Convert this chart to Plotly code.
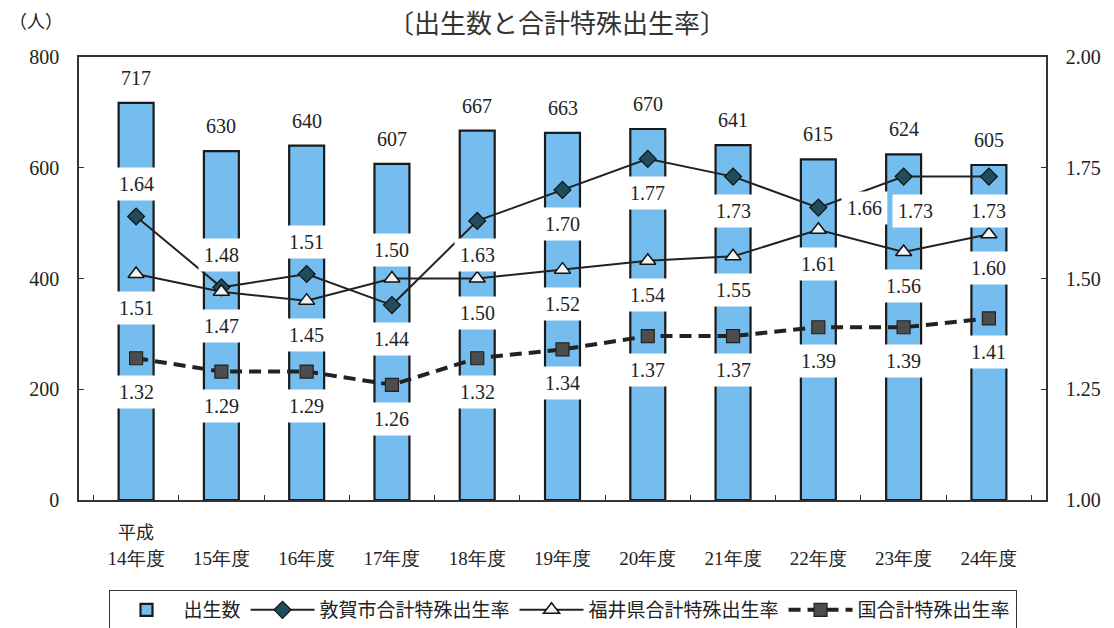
import plotly.graph_objects as go

# ---- data -------------------------------------------------------------
era = "平成"
years = ["14年度", "15年度", "16年度", "17年度", "18年度", "19年度",
         "20年度", "21年度", "22年度", "23年度", "24年度"]
births = [717, 630, 640, 607, 667, 663, 670, 641, 615, 624, 605]
tsuruga_rate = [1.64, 1.48, 1.51, 1.44, 1.63, 1.70, 1.77, 1.73, 1.66, 1.73, 1.73]
fukui_rate = [1.51, 1.47, 1.45, 1.50, 1.50, 1.52, 1.54, 1.55, 1.61, 1.56, 1.60]
japan_rate = [1.32, 1.29, 1.29, 1.26, 1.32, 1.34, 1.37, 1.37, 1.39, 1.39, 1.41]

series_names = ["出生数", "敦賀市合計特殊出生率", "福井県合計特殊出生率", "国合計特殊出生率"]
title_text = "〔出生数と合計特殊出生率〕"
unit_text = "（人）"

# label offsets (dx, dy) in pixels from each point; dy > 0 is upward
BELOW, ABOVE = (0, -34), (0, 32)
tsuruga_offsets = [ABOVE, ABOVE, ABOVE, BELOW, BELOW, BELOW,
                   BELOW, BELOW, (46, 0), (12, -34), BELOW]
fukui_offsets = [BELOW, BELOW, BELOW, (0, 29), BELOW, BELOW,
                 BELOW, BELOW, BELOW, BELOW, BELOW]
japan_offsets = [BELOW] * 11

# ---- styles -----------------------------------------------------------
SERIF = "Liberation Serif, Times New Roman, DejaVu Serif, serif"
CJK = "Noto Sans CJK JP"
INK = "#222222"
BAR_FILL = "#74BDEE"

fig = go.Figure()

fig.add_trace(go.Bar(
    x=years, y=births, name=series_names[0], width=0.41,
    marker=dict(color=BAR_FILL, line=dict(color="#1a1a1a", width=2.2)),
    yaxis="y",
))
fig.add_trace(go.Scatter(
    x=years, y=tsuruga_rate, name=series_names[1], mode="lines+markers",
    line=dict(color=INK, width=2),
    marker=dict(symbol="diamond", size=13, color="#1F4D5A",
                line=dict(color="#111111", width=1.2)),
    yaxis="y2",
))
fig.add_trace(go.Scatter(
    x=years, y=fukui_rate, name=series_names[2], mode="lines+markers",
    line=dict(color=INK, width=2),
    marker=dict(symbol="triangle-up", size=14, color="#F4F4F4",
                line=dict(color="#111111", width=1.5)),
    yaxis="y2",
))
fig.add_trace(go.Scatter(
    x=years, y=japan_rate, name=series_names[3], mode="lines+markers",
    line=dict(color=INK, width=4, dash="12px,7px"),
    marker=dict(symbol="square", size=13, color="#4D4D4D",
                line=dict(color="#222222", width=1.2)),
    yaxis="y2",
))

annotations = []

# birth counts above the bars
for yr, b in zip(years, births):
    annotations.append(dict(
        x=yr, y=b, xref="x", yref="y", text=str(b), showarrow=False,
        yshift=25, font=dict(family=SERIF, size=20, color=INK),
    ))

# rate labels in white boxes
def rate_labels(values, offsets):
    for yr, v, (dx, dy) in zip(years, values, offsets):
        annotations.append(dict(
            x=yr, y=v, xref="x", yref="y2", text=f"{v:.2f}", showarrow=False,
            xshift=dx, yshift=dy, bgcolor="white", borderpad=5,
            font=dict(family=SERIF, size=20, color=INK),
        ))

rate_labels(tsuruga_rate, tsuruga_offsets)
rate_labels(fukui_rate, fukui_offsets)
rate_labels(japan_rate, japan_offsets)

# era prefix above the first category label
annotations.append(dict(
    x=years[0], y=-0.07, xref="x", yref="paper", text=era, showarrow=False,
    yanchor="middle", font=dict(family=CJK, size=18, color=INK),
))
# unit of the left axis
annotations.append(dict(
    x=-0.0745, y=1.083, xref="paper", yref="paper", text=unit_text,
    showarrow=False, xanchor="left", yanchor="middle",
    font=dict(family=CJK, size=18, color=INK),
))
# chart title
annotations.append(dict(
    x=0.494, y=1.1264, xref="paper", yref="paper", text=title_text,
    showarrow=False, xanchor="center", yanchor="top",
    font=dict(family=CJK, size=26, color="#333333"),
))

axis_line = dict(showline=True, linecolor="#333333", linewidth=1.5,
                 ticks="inside", ticklen=5, tickcolor="#333333",
                 showgrid=False, zeroline=False)

fig.update_layout(
    width=1114, height=628, autosize=False,
    margin=dict(l=79, r=68, t=57, b=128),
    paper_bgcolor="white", plot_bgcolor="white",
    showlegend=True,
    legend=dict(
        orientation="h", xref="paper", x=0.5, xanchor="center",
        yref="container", y=1 - 590 / 628, yanchor="top",
        bordercolor="#333333", borderwidth=1, bgcolor="white",
        font=dict(family=CJK, size=19, color=INK),
        itemwidth=64, traceorder="normal",
    ),
    xaxis=dict(
        type="category", tickson="boundaries", mirror=True,
        tickfont=dict(family=SERIF, size=19, color=INK),
        ticklabelstandoff=40,
        **axis_line,
    ),
    yaxis=dict(
        range=[0, 800], dtick=200, tick0=0,
        tickfont=dict(family=SERIF, size=20, color=INK),
        ticklabelstandoff=14,
        **axis_line,
    ),
    yaxis2=dict(
        range=[1.0, 2.0], dtick=0.25, tick0=1.0, tickformat=".2f",
        overlaying="y", side="right",
        tickfont=dict(family=SERIF, size=20, color=INK),
        ticklabelstandoff=14,
        **axis_line,
    ),
    annotations=annotations,
)

fig.write_html("out.html")
